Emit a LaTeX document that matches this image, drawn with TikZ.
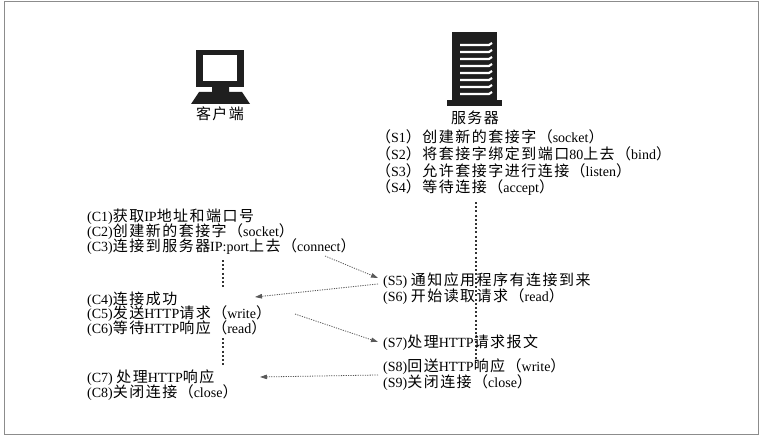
\documentclass[tikz,border=0pt]{standalone}
\usepackage{fontspec}
\setmainfont{Liberation Serif}
\newfontfamily\cjk{Noto Sans CJK SC}[Scale=1.07,LetterSpace=10]
\newcommand{\zh}[1]{{\cjk #1}}
\usetikzlibrary{arrows.meta}
\begin{document}
\begin{tikzpicture}[x=1pt,y=-1pt,
  txt/.style={anchor=west,inner sep=0pt,font=\fontsize{14}{16}\selectfont},
  lbl/.style={inner sep=0pt,font=\fontsize{14}{16}\selectfont},
  life/.style={line width=2pt,dash pattern=on 2pt off 2.2pt,draw=black!80},
  msg/.style={line width=0.8pt,dash pattern=on 1.2pt off 1.2pt,draw=black!65,-{Triangle[length=7pt,width=4.5pt]}},
  icon/.style={fill=black!88,draw=none}]
\useasboundingbox (0,0) rectangle (761,436);
\draw[black!45,line width=1pt] (4,1.5) rectangle (758,434);
% client icon
\fill[icon] (196,50) rectangle (244,87);
\fill[white] (203,55) rectangle (237,81);
\fill[icon] (212,87) -- (229,87) -- (229,92) -- (242,92) -- (250,104) -- (191,104) -- (199,92) -- (212,92) -- cycle;
\node[lbl] (client) at (220,114) {\zh{客户端}};
% server icon
\fill[icon] (452,32) rectangle (497,100);
\fill[icon] (447,100) rectangle (502,106);
\foreach \yy in {45,52,59,66,73,80,87,94}
  \draw[white,line width=2.2pt] (460,\yy) -- (489,\yy) -- (492,{\yy-2});
\node[lbl] (server) at (475,118) {\zh{服务器}};
% lifelines
\coordinate (sv1) at (476,202);
\coordinate (sv2) at (476,362);
\draw[life] (sv1) -- (sv2);
\coordinate (cl1) at (223,260);
\coordinate (cl2) at (223,288);
\coordinate (cl3) at (223,338);
\coordinate (cl4) at (223,367);
\draw[life] (cl1) -- (cl2);
\draw[life] (cl3) -- (cl4);
% server texts
\node[txt] (s1) at (376,137) {\zh{（}S1\zh{）创建新的套接字（}socket\zh{）}};
\node[txt] (s2) at (376,154) {\zh{（}S2\zh{）将套接字绑定到端口}80\zh{上去（}bind\zh{）}};
\node[txt] (s3) at (376,171) {\zh{（}S3\zh{）允许套接字进行连接（}listen\zh{）}};
\node[txt] (s4) at (376,188) {\zh{（}S4\zh{）等待连接（}accept\zh{）}};
\node[txt] (s5) at (383,281) {(S5) \zh{通知应用程序有连接到来}};
\node[txt] (s6) at (383,297) {(S6) \zh{开始读取请求（}read\zh{）}};
\node[txt] (s7) at (383,343) {(S7)\zh{处理}HTTP\zh{请求报文}};
\node[txt] (s8) at (383,367) {(S8)\zh{回送}HTTP\zh{响应（}write\zh{）}};
\node[txt] (s9) at (383,383) {(S9)\zh{关闭连接（}close\zh{）}};
% client texts
\node[txt] (c1) at (87,217) {(C1)\zh{获取}IP\zh{地址和端口号}};
\node[txt] (c2) at (87,232) {(C2)\zh{创建新的套接字（}socket\zh{）}};
\node[txt] (c3) at (87,247) {(C3)\zh{连接到服务器}IP:port\zh{上去（}connect\zh{）}};
\node[txt] (c4) at (87,300) {(C4)\zh{连接成功}};
\node[txt] (c5) at (87,314) {(C5)\zh{发送}HTTP\zh{请求（}write\zh{）}};
\node[txt] (c6) at (87,329) {(C6)\zh{等待}HTTP\zh{响应（}read\zh{）}};
\node[txt] (c7) at (87,378) {(C7) \zh{处理}HTTP\zh{响应}};
\node[txt] (c8) at (87,393) {(C8)\zh{关闭连接（}close\zh{）}};
% messages
\coordinate (m1a) at (325,256);
\coordinate (m1b) at (378,278);
\coordinate (m2a) at (378,284);
\coordinate (m2b) at (255,297);
\coordinate (m3a) at (295,314);
\coordinate (m3b) at (378,342);
\coordinate (m4a) at (378,375);
\coordinate (m4b) at (260,377);
\draw[msg] (m1a) -- (m1b);
\draw[msg] (m2a) -- (m2b);
\draw[msg] (m3a) -- (m3b);
\draw[msg] (m4a) -- (m4b);
\end{tikzpicture}
\end{document}
